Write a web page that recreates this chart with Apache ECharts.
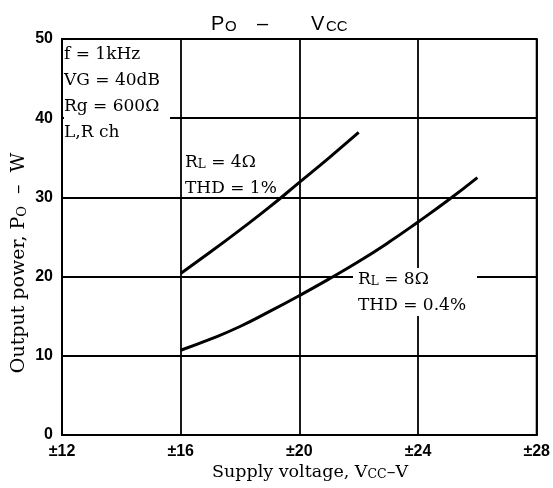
<!DOCTYPE html>
<html>
<head>
<meta charset="utf-8">
<script src="https://cdn.jsdelivr.net/npm/echarts@6/dist/echarts.min.js"></script>
<style>
html,body{margin:0;padding:0;background:#fff;}
#chart{width:553px;height:488px;}
</style>
</head>
<body>
<div id="chart"></div>
<script>
// Data
const xTicks = [12, 16, 20, 24, 28];
const yTicks = [0, 10, 20, 30, 40, 50];
const vcc4 = [16, 17, 18, 19, 20, 21, 22];
const po4 = [20.4, 23.1, 25.9, 28.8, 31.9, 35.0, 38.2];
const vcc8 = [16, 17, 18, 19, 20, 21, 22, 23, 24, 25, 26];
const po8 = [10.7, 12.1, 13.7, 15.6, 17.6, 19.7, 21.9, 24.3, 26.9, 29.6, 32.5];

const serif = 'DejaVu Serif';
const sans = 'Liberation Sans';

const chart = echarts.init(document.getElementById('chart'));

function pairs(xs, ys) { return xs.map((x, i) => [x, ys[i]]); }

const option = {
  backgroundColor: '#fff',
  animation: false,
  grid: { left: 62, right: 11, top: 39, bottom: 53, show: true, borderColor: '#000', borderWidth: 2 },
  xAxis: {
    type: 'value', min: xTicks[0], max: xTicks[xTicks.length - 1], interval: 4,
    axisLine: { show: true, lineStyle: { color: '#000', width: 2 } },
    axisTick: { show: false },
    splitLine: { show: true, lineStyle: { color: '#000', width: 1.8 } },
    axisLabel: { color: '#000', fontFamily: sans, fontWeight: 'bold', fontSize: 16, margin: 9,
      formatter: v => '\u00b1' + v }
  },
  yAxis: {
    type: 'value', min: yTicks[0], max: yTicks[yTicks.length - 1], interval: 10,
    axisLine: { show: true, lineStyle: { color: '#000', width: 2 } },
    axisTick: { show: false },
    splitLine: { show: true, lineStyle: { color: '#000', width: 1.8 } },
    axisLabel: { color: '#000', fontFamily: sans, fontWeight: 'bold', fontSize: 16, margin: 9 }
  },
  series: [
    { type: 'line', data: pairs(vcc4, po4), smooth: true, showSymbol: false,
      lineStyle: { color: '#000', width: 3 }, z: 5 },
    { type: 'line', data: pairs(vcc8, po8), smooth: true, showSymbol: false,
      lineStyle: { color: '#000', width: 3 }, z: 5 }
  ],
  graphic: [
    // title
    { type: 'text', x: 211, y: 24, z: 100, style: { text: 'P', font: '20px ' + sans, fill: '#000', verticalAlign: 'middle' } },
    { type: 'text', x: 225, y: 27, z: 100, style: { text: 'O', font: '15px ' + sans, fill: '#000', verticalAlign: 'middle' } },
    { type: 'text', x: 257, y: 24, z: 100, style: { text: '\u2013', font: '20px ' + sans, fill: '#000', verticalAlign: 'middle' } },
    { type: 'text', x: 311, y: 24, z: 100, style: { text: 'V', font: '20px ' + sans, fill: '#000', verticalAlign: 'middle' } },
    { type: 'text', x: 326, y: 27, z: 100, style: { text: 'CC', font: '15px ' + sans, fill: '#000', verticalAlign: 'middle' } },
    // conditions box
    { type: 'rect', shape: { x: 64, y: 41, width: 106, height: 104 }, style: { fill: '#fff' }, z: 90 },
    { type: 'text', x: 64, y: 42, z: 100, style: {
        text: 'f = 1kHz\nVG = 40dB\nRg = 600\u03a9\nL,R ch', font: '17px ' + serif, fill: '#000',
        lineHeight: 26, verticalAlign: 'top' } },
    // RL = 4 ohm label
    { type: 'text', x: 185, y: 145, z: 100, style: {
        text: '{m|R}{s|L}{m| = 4\u03a9}\n{m|THD = 1%}',
        rich: { m: { font: '17px ' + serif, fill: '#000', lineHeight: 26, verticalAlign: 'bottom' },
                s: { font: '12px ' + serif, fill: '#000', lineHeight: 20, verticalAlign: 'bottom' } },
        verticalAlign: 'top' } },
    // RL = 8 ohm label
    { type: 'rect', shape: { x: 353, y: 268, width: 124, height: 48 }, style: { fill: '#fff' }, z: 90 },
    { type: 'text', x: 358, y: 262, z: 100, style: {
        text: '{m|R}{s|L}{m| = 8\u03a9}\n{m|THD = 0.4%}',
        rich: { m: { font: '17px ' + serif, fill: '#000', lineHeight: 26, verticalAlign: 'bottom' },
                s: { font: '12px ' + serif, fill: '#000', lineHeight: 20, verticalAlign: 'bottom' } },
        verticalAlign: 'top' } },
    // axis names
    { type: 'text', x: 17, y: 263, rotation: Math.PI / 2, z: 100, style: {
        text: '{m|Output power, P}{s|O}{m|  \u2013  W}',
        rich: { m: { font: '19px ' + serif, fill: '#000', lineHeight: 24, verticalAlign: 'bottom' },
                s: { font: '13px ' + serif, fill: '#000', lineHeight: 17, verticalAlign: 'bottom' } },
        align: 'center', verticalAlign: 'middle' } },
    { type: 'text', x: 310, y: 470, z: 100, style: {
        text: '{m|Supply voltage, V}{s|CC}{m|\u2013V}',
        rich: { m: { font: '17.5px ' + serif, fill: '#000', lineHeight: 22, verticalAlign: 'bottom' },
                s: { font: '12.5px ' + serif, fill: '#000', lineHeight: 16, verticalAlign: 'bottom' } },
        align: 'center', verticalAlign: 'middle' } }
  ]
};
chart.setOption(option);
</script>
</body>
</html>
